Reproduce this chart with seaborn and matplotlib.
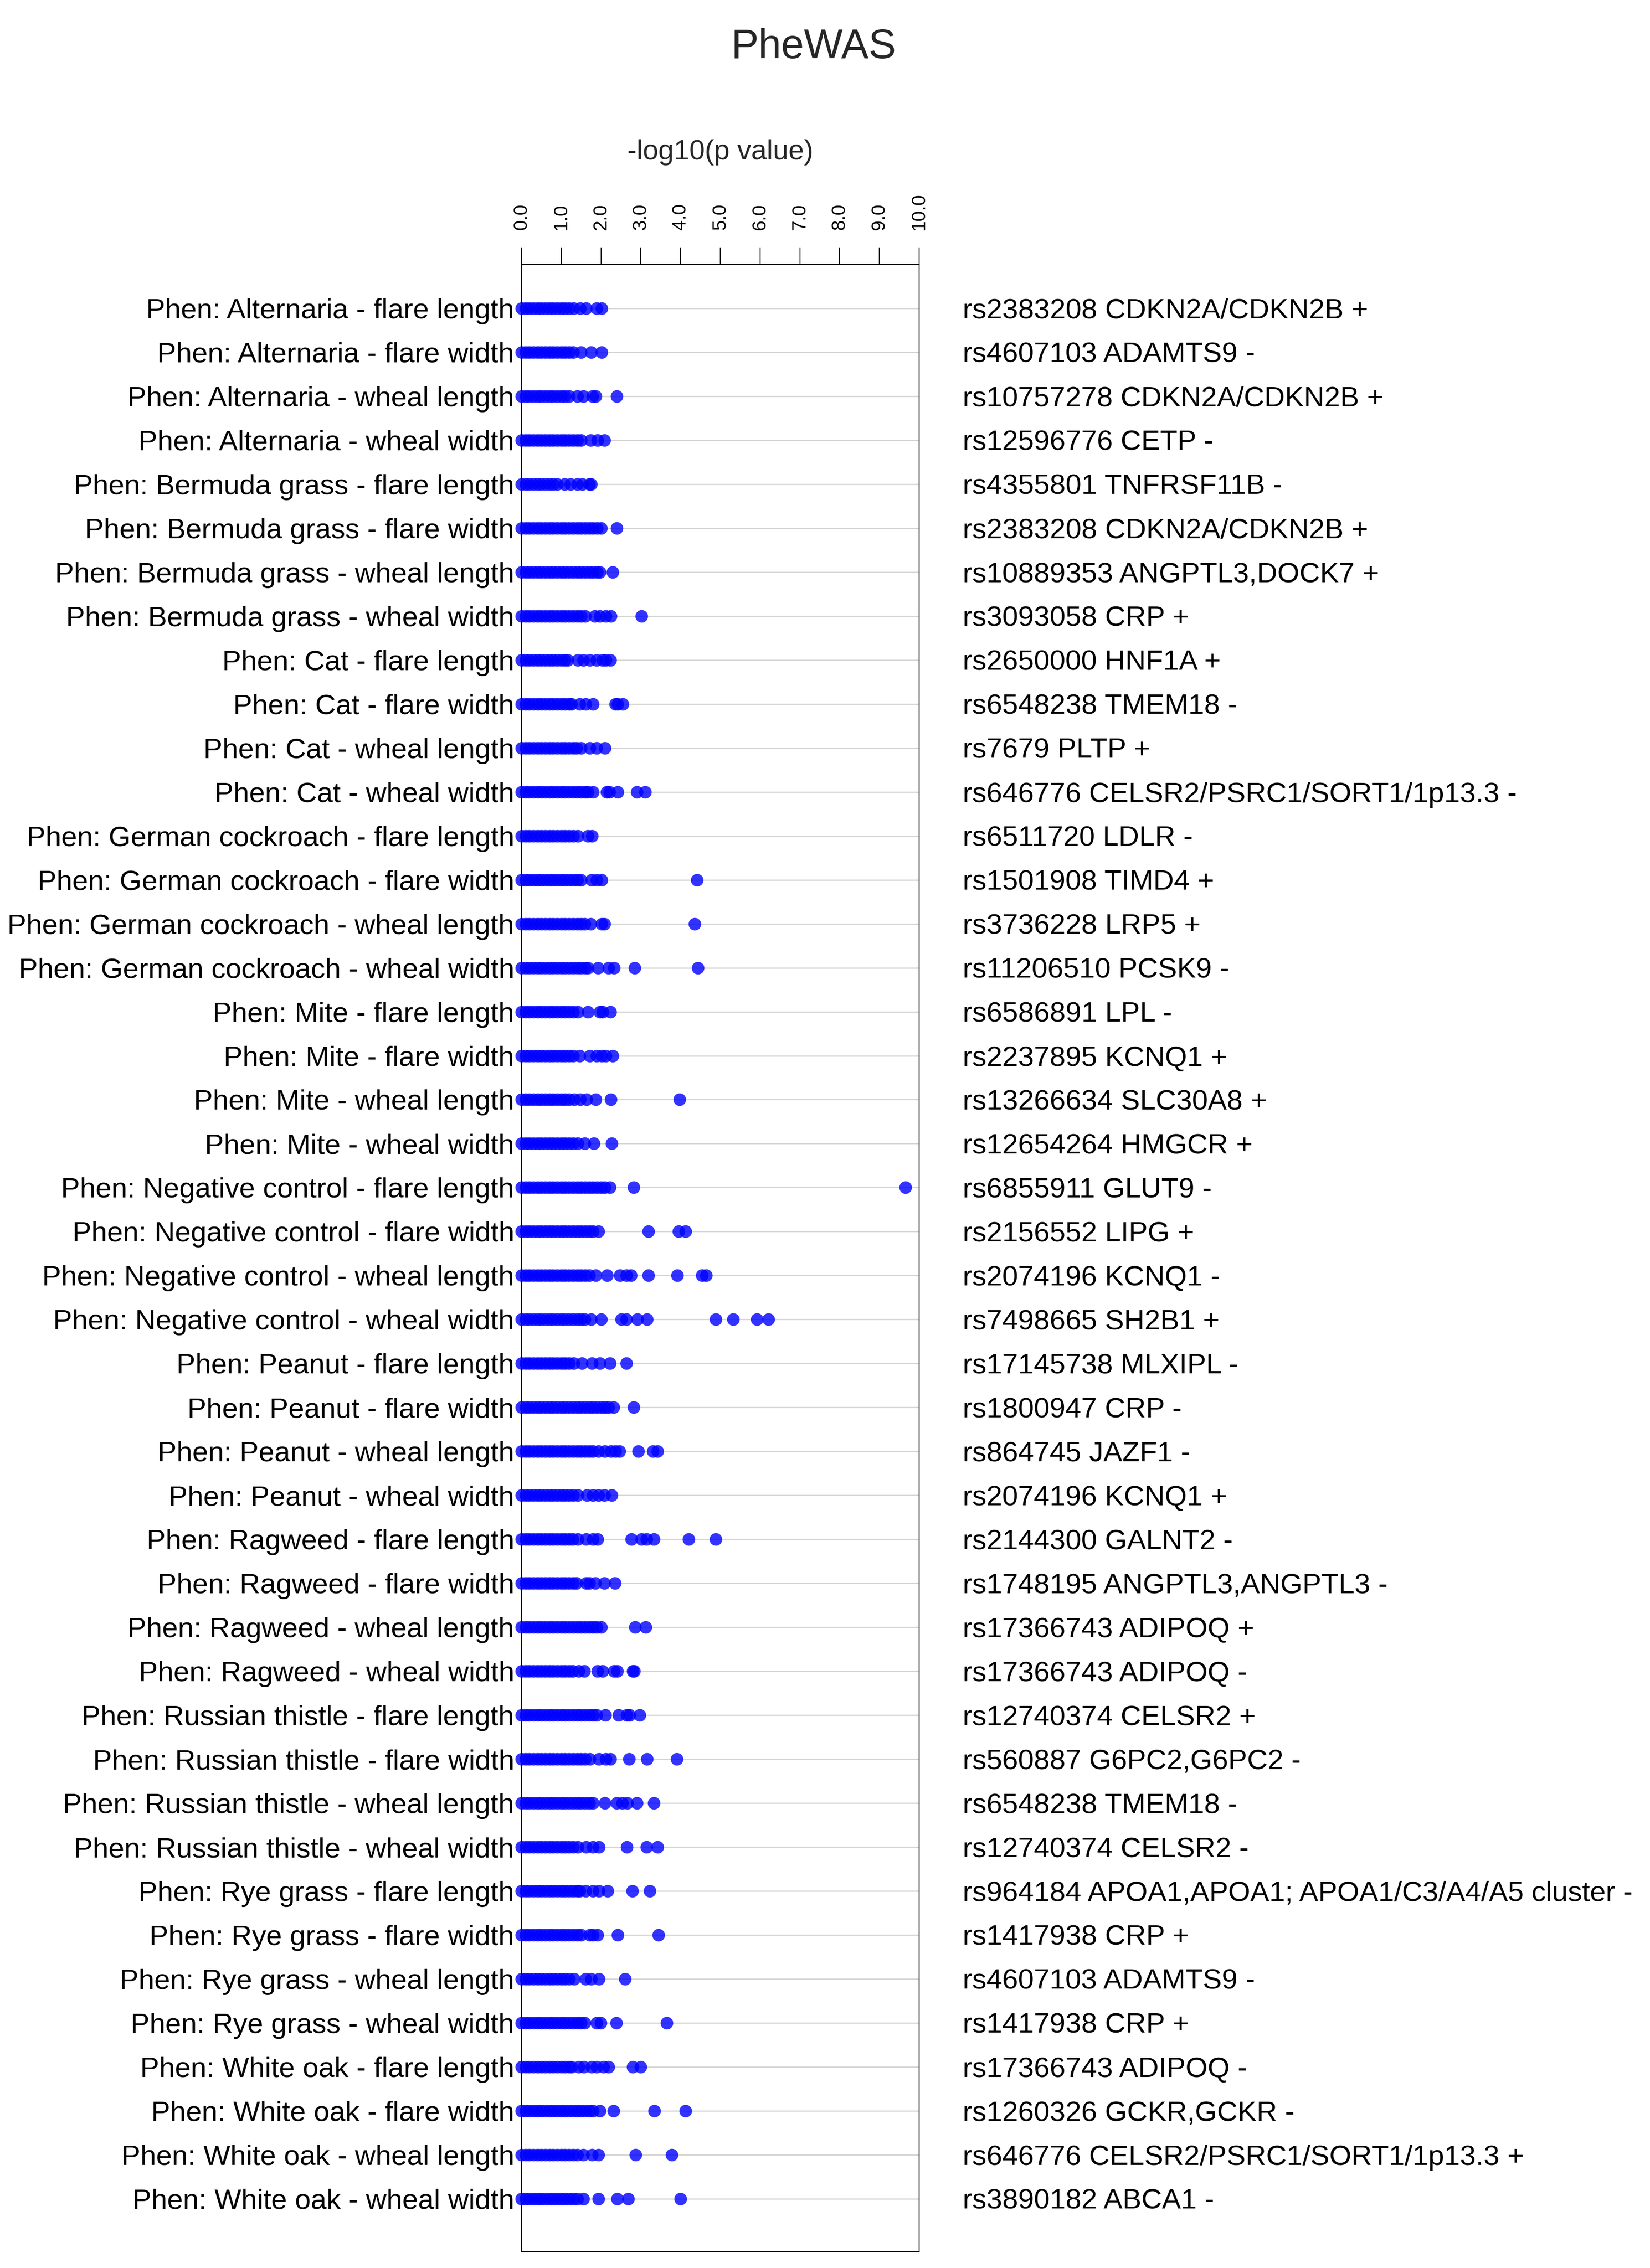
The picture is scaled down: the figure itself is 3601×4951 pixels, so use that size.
import pandas as pd
import seaborn as sns
import matplotlib
matplotlib.use("Agg")
import matplotlib.pyplot as plt

# phenotype labels (row order top -> bottom)
allergens = ["Alternaria", "Bermuda grass", "Cat", "German cockroach", "Mite",
             "Negative control", "Peanut", "Ragweed", "Russian thistle",
             "Rye grass", "White oak"]
measures = ["flare length", "flare width", "wheal length", "wheal width"]
phen_labels = ["Phen: %s - %s" % (a, m) for a in allergens for m in measures]

snp_labels = [
    "rs2383208 CDKN2A/CDKN2B +", "rs4607103 ADAMTS9 -", "rs10757278 CDKN2A/CDKN2B +",
    "rs12596776 CETP -", "rs4355801 TNFRSF11B -", "rs2383208 CDKN2A/CDKN2B +",
    "rs10889353 ANGPTL3,DOCK7 +", "rs3093058 CRP +", "rs2650000 HNF1A +",
    "rs6548238 TMEM18 -", "rs7679 PLTP +", "rs646776 CELSR2/PSRC1/SORT1/1p13.3 -",
    "rs6511720 LDLR -", "rs1501908 TIMD4 +", "rs3736228 LRP5 +", "rs11206510 PCSK9 -",
    "rs6586891 LPL -", "rs2237895 KCNQ1 +", "rs13266634 SLC30A8 +", "rs12654264 HMGCR +",
    "rs6855911 GLUT9 -", "rs2156552 LIPG +", "rs2074196 KCNQ1 -", "rs7498665 SH2B1 +",
    "rs17145738 MLXIPL -", "rs1800947 CRP -", "rs864745 JAZF1 -", "rs2074196 KCNQ1 +",
    "rs2144300 GALNT2 -", "rs1748195 ANGPTL3,ANGPTL3 -", "rs17366743 ADIPOQ +",
    "rs17366743 ADIPOQ -", "rs12740374 CELSR2 +", "rs560887 G6PC2,G6PC2 -",
    "rs6548238 TMEM18 -", "rs12740374 CELSR2 -",
    "rs964184 APOA1,APOA1; APOA1/C3/A4/A5 cluster -", "rs1417938 CRP +",
    "rs4607103 ADAMTS9 -", "rs1417938 CRP +", "rs17366743 ADIPOQ -",
    "rs1260326 GCKR,GCKR -", "rs646776 CELSR2/PSRC1/SORT1/1p13.3 +", "rs3890182 ABCA1 -",
]

tick_values = [0, 1, 2, 3, 4, 5, 6, 7, 8, 9, 10]
tick_labels = ["0.0", "1.0", "2.0", "3.0", "4.0", "5.0", "6.0", "7.0", "8.0", "9.0", "10.0"]

# -log10(p) values per phenotype
neglogp = [
    [0.0, 0.1, 0.2, 0.3, 0.4, 0.5, 0.6, 0.7, 0.8, 0.9, 1.0, 1.1, 1.2, 1.31, 1.48, 1.63, 1.89, 2.02],
    [0.0, 0.1, 0.2, 0.3, 0.4, 0.5, 0.6, 0.7, 0.8, 0.9, 1.0, 1.1, 1.2, 1.3, 1.50, 1.75, 2.02],
    [0.0, 0.1, 0.2, 0.3, 0.4, 0.5, 0.6, 0.7, 0.8, 0.9, 1.0, 1.1, 1.2, 1.40, 1.55, 1.78, 1.87, 2.40],
    [0.0, 0.1, 0.2, 0.3, 0.4, 0.5, 0.6, 0.7, 0.8, 0.9, 1.0, 1.1, 1.2, 1.3, 1.4, 1.5, 1.74, 1.91, 2.08],
    [0.0, 0.1, 0.2, 0.3, 0.4, 0.5, 0.6, 0.7, 0.8, 0.9, 1.08, 1.23, 1.40, 1.53, 1.70, 1.75],
    [0.0, 0.1, 0.2, 0.3, 0.4, 0.5, 0.6, 0.7, 0.8, 0.9, 1.0, 1.1, 1.2, 1.3, 1.4, 1.5, 1.6, 1.7, 1.8, 1.9, 2.00, 2.40],
    [0.0, 0.1, 0.2, 0.3, 0.4, 0.5, 0.6, 0.7, 0.8, 0.9, 1.0, 1.1, 1.2, 1.3, 1.4, 1.5, 1.6, 1.7, 1.8, 1.9, 1.97, 2.29],
    [0.0, 0.1, 0.2, 0.3, 0.4, 0.5, 0.6, 0.7, 0.8, 0.9, 1.0, 1.1, 1.2, 1.3, 1.4, 1.5, 1.6, 1.84, 1.97, 2.12, 2.25, 3.02],
    [0.0, 0.1, 0.2, 0.3, 0.4, 0.5, 0.6, 0.7, 0.8, 0.9, 1.0, 1.1, 1.16, 1.42, 1.55, 1.72, 1.89, 2.04, 2.12, 2.24],
    [0.0, 0.1, 0.2, 0.3, 0.4, 0.5, 0.6, 0.7, 0.8, 0.9, 1.0, 1.1, 1.2, 1.25, 1.46, 1.61, 1.80, 2.36, 2.42, 2.55],
    [0.0, 0.1, 0.2, 0.3, 0.4, 0.5, 0.6, 0.7, 0.8, 0.9, 1.0, 1.1, 1.2, 1.3, 1.38, 1.50, 1.72, 1.89, 2.10],
    [0.0, 0.1, 0.2, 0.3, 0.4, 0.5, 0.6, 0.7, 0.8, 0.9, 1.0, 1.1, 1.2, 1.3, 1.4, 1.5, 1.6, 1.67, 1.80, 2.14, 2.21, 2.42, 2.90, 3.11],
    [0.0, 0.1, 0.2, 0.3, 0.4, 0.5, 0.6, 0.7, 0.8, 0.9, 1.0, 1.1, 1.2, 1.3, 1.42, 1.67, 1.77],
    [0.0, 0.1, 0.2, 0.3, 0.4, 0.5, 0.6, 0.7, 0.8, 0.9, 1.0, 1.1, 1.2, 1.3, 1.4, 1.5, 1.76, 1.89, 2.02, 4.41],
    [0.0, 0.1, 0.2, 0.3, 0.4, 0.5, 0.6, 0.7, 0.8, 0.9, 1.0, 1.1, 1.2, 1.3, 1.4, 1.5, 1.59, 1.74, 2.02, 2.09, 4.36],
    [0.0, 0.1, 0.2, 0.3, 0.4, 0.5, 0.6, 0.7, 0.8, 0.9, 1.0, 1.1, 1.2, 1.3, 1.4, 1.5, 1.6, 1.67, 1.92, 2.19, 2.33, 2.84, 4.43],
    [0.0, 0.1, 0.2, 0.3, 0.4, 0.5, 0.6, 0.7, 0.8, 0.9, 1.0, 1.1, 1.2, 1.3, 1.42, 1.67, 1.97, 2.04, 2.23],
    [0.0, 0.1, 0.2, 0.3, 0.4, 0.5, 0.6, 0.7, 0.8, 0.9, 1.0, 1.1, 1.2, 1.3, 1.46, 1.72, 1.89, 2.02, 2.12, 2.29],
    [0.0, 0.1, 0.2, 0.3, 0.4, 0.5, 0.6, 0.7, 0.8, 0.9, 1.0, 1.1, 1.2, 1.33, 1.48, 1.64, 1.87, 2.25, 3.97],
    [0.0, 0.1, 0.2, 0.3, 0.4, 0.5, 0.6, 0.7, 0.8, 0.9, 1.0, 1.1, 1.2, 1.3, 1.42, 1.59, 1.82, 2.27],
    [0.0, 0.1, 0.2, 0.3, 0.4, 0.5, 0.6, 0.7, 0.8, 0.9, 1.0, 1.1, 1.2, 1.3, 1.4, 1.5, 1.6, 1.7, 1.8, 1.9, 2.0, 2.1, 2.22, 2.82, 9.65],
    [0.0, 0.1, 0.2, 0.3, 0.4, 0.5, 0.6, 0.7, 0.8, 0.9, 1.0, 1.1, 1.2, 1.3, 1.4, 1.5, 1.6, 1.7, 1.8, 1.93, 3.19, 3.95, 4.12],
    [0.0, 0.1, 0.2, 0.3, 0.4, 0.5, 0.6, 0.7, 0.8, 0.9, 1.0, 1.1, 1.2, 1.3, 1.4, 1.5, 1.6, 1.7, 1.87, 2.16, 2.48, 2.64, 2.75, 3.19, 3.92, 4.54, 4.64],
    [0.0, 0.1, 0.2, 0.3, 0.4, 0.5, 0.6, 0.7, 0.8, 0.9, 1.0, 1.1, 1.2, 1.3, 1.4, 1.5, 1.59, 1.75, 2.01, 2.51, 2.64, 2.92, 3.16, 4.88, 5.32, 5.92, 6.21],
    [0.0, 0.1, 0.2, 0.3, 0.4, 0.5, 0.6, 0.7, 0.8, 0.9, 1.0, 1.1, 1.2, 1.31, 1.52, 1.77, 1.97, 2.22, 2.64],
    [0.0, 0.1, 0.2, 0.3, 0.4, 0.5, 0.6, 0.7, 0.8, 0.9, 1.0, 1.1, 1.2, 1.3, 1.4, 1.5, 1.6, 1.7, 1.8, 1.9, 2.0, 2.1, 2.19, 2.31, 2.82],
    [0.0, 0.1, 0.2, 0.3, 0.4, 0.5, 0.6, 0.7, 0.8, 0.9, 1.0, 1.1, 1.2, 1.3, 1.4, 1.5, 1.6, 1.7, 1.8, 1.93, 2.10, 2.25, 2.36, 2.47, 2.94, 3.31, 3.42],
    [0.0, 0.1, 0.2, 0.3, 0.4, 0.5, 0.6, 0.7, 0.8, 0.9, 1.0, 1.1, 1.2, 1.3, 1.42, 1.65, 1.80, 1.93, 2.08, 2.27],
    [0.0, 0.1, 0.2, 0.3, 0.4, 0.5, 0.6, 0.7, 0.8, 0.9, 1.0, 1.1, 1.2, 1.29, 1.42, 1.63, 1.80, 1.91, 2.77, 3.02, 3.14, 3.33, 4.20, 4.88],
    [0.0, 0.1, 0.2, 0.3, 0.4, 0.5, 0.6, 0.7, 0.8, 0.9, 1.0, 1.1, 1.2, 1.3, 1.38, 1.63, 1.70, 1.85, 2.08, 2.35],
    [0.0, 0.1, 0.2, 0.3, 0.4, 0.5, 0.6, 0.7, 0.8, 0.9, 1.0, 1.1, 1.2, 1.3, 1.4, 1.5, 1.6, 1.7, 1.8, 1.89, 2.01, 2.86, 3.12],
    [0.0, 0.1, 0.2, 0.3, 0.4, 0.5, 0.6, 0.7, 0.8, 0.9, 1.0, 1.1, 1.2, 1.29, 1.44, 1.58, 1.91, 2.04, 2.33, 2.41, 2.80, 2.83],
    [0.0, 0.1, 0.2, 0.3, 0.4, 0.5, 0.6, 0.7, 0.8, 0.9, 1.0, 1.1, 1.2, 1.3, 1.4, 1.5, 1.6, 1.7, 1.8, 1.89, 2.11, 2.44, 2.65, 2.72, 2.97],
    [0.0, 0.1, 0.2, 0.3, 0.4, 0.5, 0.6, 0.7, 0.8, 0.9, 1.0, 1.1, 1.2, 1.3, 1.4, 1.5, 1.6, 1.72, 1.95, 2.12, 2.24, 2.71, 3.16, 3.90],
    [0.0, 0.1, 0.2, 0.3, 0.4, 0.5, 0.6, 0.7, 0.8, 0.9, 1.0, 1.1, 1.2, 1.3, 1.4, 1.5, 1.6, 1.7, 1.80, 2.10, 2.40, 2.53, 2.66, 2.90, 3.33],
    [0.0, 0.1, 0.2, 0.3, 0.4, 0.5, 0.6, 0.7, 0.8, 0.9, 1.0, 1.1, 1.2, 1.3, 1.42, 1.63, 1.80, 1.95, 2.65, 3.14, 3.42],
    [0.0, 0.1, 0.2, 0.3, 0.4, 0.5, 0.6, 0.7, 0.8, 0.9, 1.0, 1.1, 1.2, 1.3, 1.4, 1.46, 1.61, 1.80, 1.95, 2.17, 2.79, 3.23],
    [0.0, 0.1, 0.2, 0.3, 0.4, 0.5, 0.6, 0.7, 0.8, 0.9, 1.0, 1.1, 1.2, 1.3, 1.4, 1.5, 1.72, 1.80, 1.91, 2.42, 3.44],
    [0.0, 0.1, 0.2, 0.3, 0.4, 0.5, 0.6, 0.7, 0.8, 0.9, 1.0, 1.1, 1.2, 1.33, 1.61, 1.75, 1.95, 2.60],
    [0.0, 0.1, 0.2, 0.3, 0.4, 0.5, 0.6, 0.7, 0.8, 0.9, 1.0, 1.1, 1.2, 1.3, 1.4, 1.5, 1.59, 1.89, 1.99, 2.38, 3.65],
    [0.0, 0.1, 0.2, 0.3, 0.4, 0.5, 0.6, 0.7, 0.8, 0.9, 1.0, 1.1, 1.2, 1.25, 1.44, 1.57, 1.76, 1.89, 2.06, 2.19, 2.80, 2.99],
    [0.0, 0.1, 0.2, 0.3, 0.4, 0.5, 0.6, 0.7, 0.8, 0.9, 1.0, 1.1, 1.2, 1.3, 1.4, 1.5, 1.6, 1.7, 1.8, 1.97, 2.32, 3.34, 4.13],
    [0.0, 0.1, 0.2, 0.3, 0.4, 0.5, 0.6, 0.7, 0.8, 0.9, 1.0, 1.1, 1.2, 1.3, 1.4, 1.56, 1.77, 1.94, 2.87, 3.78],
    [0.0, 0.1, 0.2, 0.3, 0.4, 0.5, 0.6, 0.7, 0.8, 0.9, 1.0, 1.1, 1.2, 1.3, 1.4, 1.56, 1.93, 2.41, 2.68, 4.00],
]

rows = []
for lab, vals in zip(phen_labels, neglogp):
    for v in vals:
        rows.append((lab, v))
df = pd.DataFrame(rows, columns=["phenotype", "value"])
df["phenotype"] = pd.Categorical(df["phenotype"], categories=phen_labels, ordered=True)

sns.set_style("white")
plt.rcParams["font.family"] = ["Liberation Sans", "DejaVu Sans"]

W, H, DPI = 3601, 4951, 300
fig = plt.figure(figsize=(W / DPI, H / DPI), dpi=DPI)
ax = fig.add_axes([1138 / W, 1 - 4915 / H, (2006 - 1138) / W, (4915 - 577) / H])

sns.stripplot(data=df, x="value", y="phenotype", order=phen_labels, orient="h",
              jitter=False, color="#0000ff", alpha=0.8, size=6.6, linewidth=0,
              clip_on=False, zorder=3, ax=ax)

ax.set_xlim(0, 10)
ax.set_ylim(len(phen_labels) - 1 + 1.2, -1)
ax.set_xlabel("")
ax.set_ylabel("")

ax.xaxis.tick_top()
ax.set_xticks(tick_values)
ax.set_xticklabels(tick_labels, rotation=90, fontsize=10)
ax.tick_params(axis="x", top=True, bottom=False, direction="out", length=8.9,
               width=0.5, pad=9.0, colors="black")
ax.tick_params(axis="y", left=False, length=0, pad=3.8, labelsize=14.9,
               labelcolor="black")

ax.yaxis.grid(True, color="#d3d3d3", lw=0.6)
ax.xaxis.grid(False)
ax.set_axisbelow(True)
for sp in ax.spines.values():
    sp.set_color("black")
    sp.set_linewidth(0.5)

for i, lab in enumerate(snp_labels):
    ax.text((2101 - 1138) / (2006 - 1138), i, lab, transform=ax.get_yaxis_transform(),
            ha="left", va="center_baseline", fontsize=14.9, color="black")

fig.text(1572 / W, 1 - 348 / H, "-log10(p value)", ha="center", va="baseline", fontsize=14.6)
fig.text(1776 / W, 1 - 127 / H, "PheWAS", ha="center", va="baseline", fontsize=21.5)

fig.savefig("out.png", dpi=DPI, facecolor="white")
